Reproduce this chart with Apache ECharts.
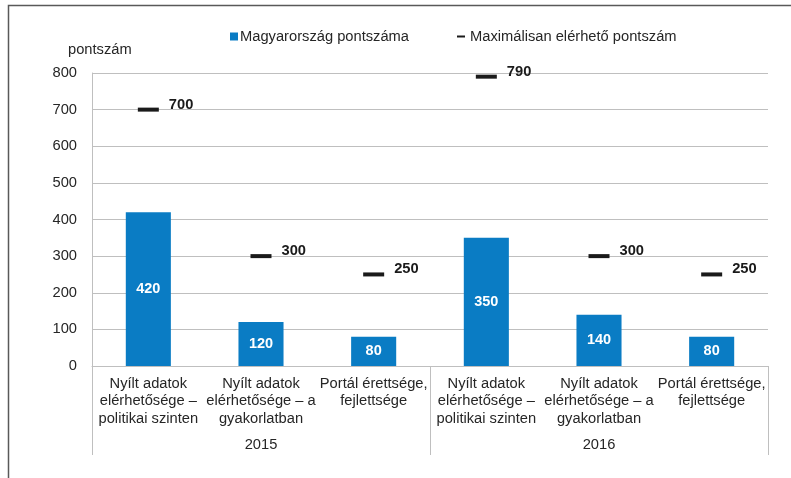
<!DOCTYPE html>
<html>
<head>
<meta charset="utf-8">
<script src="https://cdn.jsdelivr.net/npm/echarts@6/dist/echarts.min.js"></script>
<style>
  html, body {margin: 0; padding: 0; background: #fff;}
  #chart {width: 791px; height: 478px;}
</style>
</head>
<body>
<div id="chart"></div>
<script>
var categories = [
    'Nyílt adatok\nelérhetősége –\npolitikai szinten',
    'Nyílt adatok\nelérhetősége – a\ngyakorlatban',
    'Portál érettsége,\nfejlettsége',
    'Nyílt adatok\nelérhetősége –\npolitikai szinten',
    'Nyílt adatok\nelérhetősége – a\ngyakorlatban',
    'Portál érettsége,\nfejlettsége'
];
var years = ['2015', '2016'];
var hungaryScores = [420, 120, 80, 350, 140, 80];
var maxScores = [700, 300, 250, 790, 300, 250];
var yTicks = {min: 0, max: 800, interval: 100};

var font = 'Liberation Sans, Arial, sans-serif';
var textColor = '#262626';
var gray = '#bfbfbf';

var myChart = echarts.init(document.getElementById('chart'));
myChart.setOption({
    animation: false,
    textStyle: {fontFamily: font},
    graphic: [
        {
            type: 'polyline',
            shape: {points: [[8.5, 478], [8.5, 5.5], [791, 5.5]]},
            style: {stroke: '#595959', lineWidth: 1.5, fill: null}
        },
        {
            type: 'text',
            left: 68,
            top: 42,
            style: {text: 'pontszám', fontSize: 14.7, fill: textColor, fontFamily: font}
        }
    ],
    legend: [
        {
            left: 225,
            top: 24,
            itemWidth: 8,
            itemHeight: 8,
            icon: 'rect',
            data: ['Magyarország pontszáma'],
            textStyle: {fontSize: 14.7, color: textColor, padding: [0, 0, 0, -3]}
        },
        {
            left: 452,
            top: 24,
            itemWidth: 8,
            itemHeight: 2,
            icon: 'rect',
            data: ['Maximálisan elérhető pontszám'],
            textStyle: {fontSize: 14.7, color: textColor}
        }
    ],
    grid: {left: 92, right: 23, top: 73, bottom: 112},
    xAxis: [
        {
            type: 'category',
            position: 'bottom',
            data: categories,
            axisLine: {lineStyle: {color: gray}},
            axisTick: {show: false},
            axisLabel: {
                interval: 0,
                margin: 9,
                fontSize: 14.7,
                lineHeight: 17.5,
                color: textColor
            }
        },
        {
            type: 'category',
            position: 'bottom',
            data: years,
            axisLine: {show: false},
            axisTick: {show: true, interval: 0, length: 89, lineStyle: {color: gray}},
            axisLabel: {margin: 71, fontSize: 14.7, color: textColor}
        }
    ],
    yAxis: {
        type: 'value',
        min: yTicks.min,
        max: yTicks.max,
        interval: yTicks.interval,
        axisLine: {show: true, lineStyle: {color: gray}},
        axisTick: {show: false},
        axisLabel: {margin: 15, fontSize: 14.7, color: textColor},
        splitLine: {lineStyle: {color: gray}}
    },
    series: [
        {
            name: 'Magyarország pontszáma',
            type: 'bar',
            xAxisIndex: 0,
            data: hungaryScores,
            barWidth: '40%',
            itemStyle: {color: '#0a7cc4'},
            label: {
                show: true,
                position: 'inside',
                color: '#fff',
                fontWeight: 'bold',
                fontSize: 14.5
            }
        },
        {
            name: 'Maximálisan elérhető pontszám',
            type: 'scatter',
            xAxisIndex: 0,
            data: maxScores,
            symbol: 'rect',
            symbolSize: [21, 4],
            itemStyle: {color: '#1a1a1a', opacity: 1},
            label: {
                show: true,
                position: 'right',
                distance: 10,
                offset: [0, -5],
                color: '#1a1a1a',
                fontWeight: 'bold',
                fontSize: 14.7
            }
        }
    ]
});
</script>
</body>
</html>
